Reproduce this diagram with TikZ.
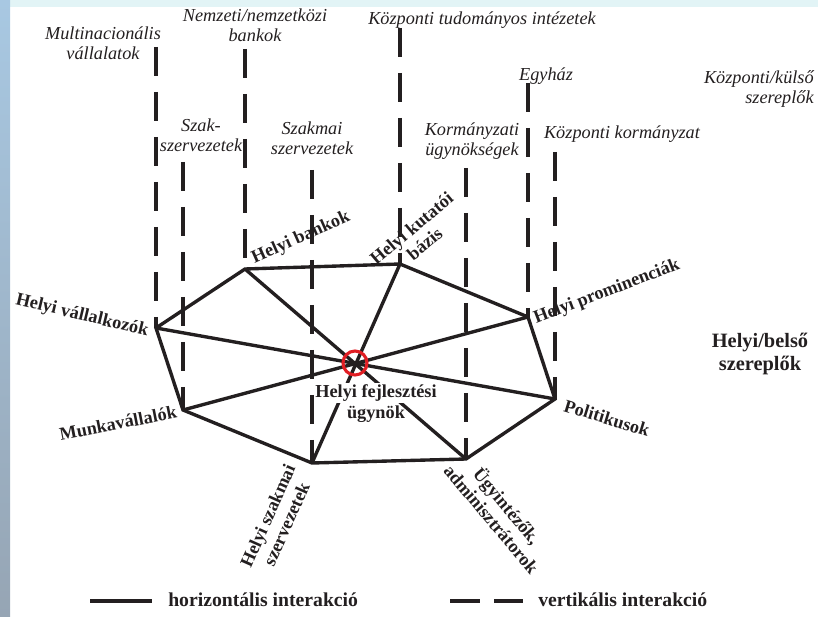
\documentclass[tikz,border=0pt]{standalone}
\usepackage{fontspec}
\setmainfont{Liberation Serif}
\usetikzlibrary{positioning}

\definecolor{ink}{RGB}{35,31,32}
\definecolor{bgtop}{RGB}{226,244,246}
\definecolor{bgleft}{RGB}{168,200,226}
\definecolor{bgleftlow}{RGB}{150,165,180}
\definecolor{mark}{RGB}{225,30,36}

\tikzstyle{pt} = [coordinate]
\tikzstyle{horiz} = [draw=ink, line width=2.4pt, line join=miter]
\tikzstyle{vert} = [draw=ink, line width=2.9pt, dash pattern=on 20.6pt off 11.4pt]
\tikzstyle{outer} = [text=ink, font=\fontsize{13}{14.5}\selectfont\itshape, align=center, inner sep=0]
\tikzstyle{inner} = [text=ink, font=\fontsize{13}{14.5}\selectfont\bfseries, align=center, inner sep=0]
\tikzstyle{legend} = [text=ink, font=\fontsize{14}{16}\selectfont\bfseries, anchor=west, inner sep=0]

\begin{document}
\begin{tikzpicture}[x=0.025cm, y=-0.025cm]

%Background
	\useasboundingbox (0,0) rectangle (818,617);
	\fill[bgtop] (0,0) rectangle (818,7);
	\shade[top color=bgleft, bottom color=bgleftlow] (0,0) rectangle (10,617);

%Nodes
	\node[pt] (c)   at (355,363) {};
	\node[pt] (hv)  at (156,328) {};
	\node[pt] (hb)  at (245,269) {};
	\node[pt] (hk)  at (400,264) {};
	\node[pt] (hp)  at (528,317) {};
	\node[pt] (po)  at (555,399) {};
	\node[pt] (ug)  at (466,459) {};
	\node[pt] (hsz) at (312,463) {};
	\node[pt] (mu)  at (183,410) {};

	\node[pt] (mvtop) at (156,47) {};
	\node[pt] (nbtop) at (245,49) {};
	\node[pt] (kttop) at (400,28) {};
	\node[pt] (sztop) at (183,162) {};
	\node[pt] (smtop) at (312,170) {};
	\node[pt] (egtop) at (528,83) {};
	\node[pt] (kutop) at (466,168) {};
	\node[pt] (kktop) at (555,152) {};

%Central/outer actors
	\node[outer] (mv) at (103,43) {Multinacionális\\vállalatok};
	\node[outer] (nb) at (255,25) {Nemzeti/nemzetközi\\bankok};
	\node[outer] (kt) at (482,20) {Központi tudományos intézetek};
	\node[outer] (sz) at (201,135) {Szak-\\szervezetek};
	\node[outer] (sm) at (312,138) {Szakmai\\szervezetek};
	\node[outer] (eg) at (546,76) {Egyház};
	\node[outer] (ku) at (472,141) {Kormányzati\\ügynökségek};
	\node[outer] (kk) at (622,134) {Központi kormányzat};
	\node[outer, align=right, anchor=east] (ks) at (814,89) {Központi/külső\\szereplők};

%Vertical
	\draw[vert] (mvtop) -- (hv);
	\draw[vert] (nbtop) -- (hb);
	\draw[vert] (kttop) -- (hk);
	\draw[vert] (sztop) -- (mu);
	\draw[vert] (smtop) -- (hsz);
	\draw[vert] (egtop) -- (hp);
	\draw[vert] (kutop) -- (ug);
	\draw[vert] (kktop) -- (po);

%Horizontal
	\draw[horiz] (hv) -- (hb) -- (hk) -- (hp) -- (po) -- (ug) -- (hsz) -- (mu) -- cycle;
	\draw[horiz] (hv) -- (po);
	\draw[horiz] (mu) -- (hp);
	\draw[horiz] (hb) -- (ug);
	\draw[horiz] (hk) -- (hsz);
	\draw[draw=mark, line width=2.2pt] (c) circle (12);

%Local/inner actors
	\node[inner, rotate=-13.5] (lhv) at (82,316) {Helyi vállalkozók};
	\node[inner, rotate=24] (lhb) at (301,238) {Helyi bankok};
	\node[inner, rotate=40] (lhk) at (418,236) {Helyi kutatói\\bázis};
	\node[inner, rotate=21] (lhp) at (607,292) {Helyi prominenciák};
	\node[inner, rotate=-17] (lpo) at (607,418) {Politikusok};
	\node[inner, rotate=-50] (lug) at (500,512) {Ügyintézők,\\adminisztrátorok};
	\node[inner, rotate=66] (lhsz) at (277,520) {Helyi szakmai\\szervezetek};
	\node[inner, rotate=11] (lmu) at (118,423) {Munkavállalók};
	\node[inner, fill=white, inner sep=1pt] (lc) at (376,393) {Helyi fejlesztési};
	\node[inner] (lcb) at (376,414) {ügynök};
	\node[inner, font=\fontsize{14.5}{16.5}\selectfont\bfseries] (lhelyi) at (760,354) {Helyi/belső\\szereplők};

%Legend
	\node[pt] (h1) at (90,601) {};
	\node[pt] (h2) at (152,601) {};
	\node[pt] (v1) at (450,601) {};
	\node[pt] (v2) at (523,601) {};
	\draw[horiz, line width=2.9pt] (h1) -- (h2);
	\draw[vert, dash pattern=on 21.3pt off 10pt] (v1) -- (v2);
	\node[legend] (lh) at (168,600) {horizontális interakció};
	\node[legend] (lv) at (538,600) {vertikális interakció};

\end{tikzpicture}
\end{document}
